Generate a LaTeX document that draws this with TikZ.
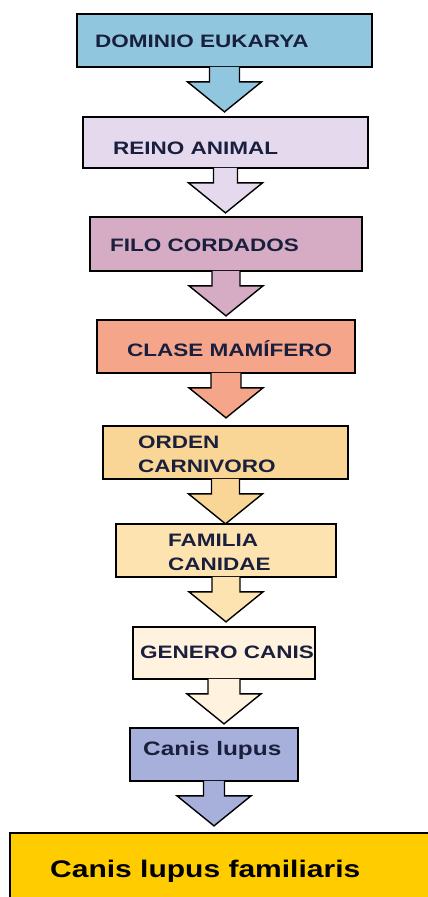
\documentclass[tikz,border=0pt]{standalone}
\usepackage{fontspec}
\setmainfont{Liberation Sans}[FakeStretch=1.25]
\usepackage{tikz}
\definecolor{azul1}{rgb}{0.57,0.78,0.87}
\definecolor{lila1}{rgb}{0.9,0.85,0.93}
\definecolor{malva1}{rgb}{0.84,0.67,0.77}
\definecolor{salmon1}{rgb}{0.96,0.65,0.54}
\definecolor{naranja1}{rgb}{0.98,0.84,0.59}
\definecolor{naranja2}{rgb}{0.99,0.89,0.69}
\definecolor{crema1}{rgb}{1,0.95,0.87}
\definecolor{azul2}{rgb}{0.65,0.69,0.86}
\definecolor{oro1}{rgb}{1,0.8,0}
\definecolor{tinta}{rgb}{0.1,0.12,0.24}
% flecha gruesa bajo una caja: caja, color, medio ancho del cuerpo
\newcommand{\flecha}[3]{%
\filldraw[fill=#2, draw=black, line width=1.4pt, line join=miter]
  ([xshift=-#3pt,yshift=1pt]#1.south) -- ++(0,15) -- ++({#3-37},0) -- ++(37,30)
  -- ++(37,-30) -- ++({#3-37},0) -- ++(0,-15);
}

\begin{document}
\begin{tikzpicture}[x=1pt,y=-1pt,
  caja/.style={draw=black, line width=1.7pt, inner sep=0pt},
  rotulo/.style={anchor=base west, inner sep=0pt, text=tinta, align=left,
    font=\bfseries\fontsize{18}{24}\selectfont}]
\clip (0,0) rectangle (428,897);

\node[caja, fill=azul1, minimum width=295pt, minimum height=53pt] (b1) at (224.5,40.5) {};
\node[caja, fill=lila1, minimum width=285pt, minimum height=51pt] (b2) at (225.5,142.5) {};
\node[caja, fill=malva1, minimum width=272pt, minimum height=54pt] (b3) at (226,244) {};
\node[caja, fill=salmon1, minimum width=258pt, minimum height=53pt] (b4) at (226,346.5) {};
\node[caja, fill=naranja1, minimum width=245pt, minimum height=53pt] (b5) at (225.5,452.5) {};
\node[caja, fill=naranja2, minimum width=220pt, minimum height=53pt] (b6) at (226,550.5) {};
\node[caja, fill=crema1, minimum width=182pt, minimum height=52pt] (b7) at (224,653) {};
\node[caja, fill=azul2, minimum width=168pt, minimum height=53pt] (b8) at (214,754.5) {};
\node[caja, fill=oro1, minimum width=440pt, minimum height=82pt] (b9) at (230,874) {};

\flecha{b1}{azul1}{15}
\flecha{b2}{lila1}{12}
\flecha{b3}{malva1}{14}
\flecha{b4}{salmon1}{15}
\flecha{b5}{naranja1}{14}
\flecha{b6}{naranja2}{14}
\flecha{b7}{crema1}{16}
\flecha{b8}{azul2}{10.5}

\node[rotulo] (t1) at (95,47) {DOMINIO EUKARYA};
\node[rotulo] (t2) at (113,154) {REINO ANIMAL};
\node[rotulo] (t3) at (110,251) {FILO CORDADOS};
\node[rotulo] (t4) at (127,356) {CLASE MAMÍFERO};
% el ancla base cae en la ultima linea
\node[rotulo] (t5) at (138,472) {ORDEN\\CARNIVORO};
\node[rotulo] (t6) at (168,570) {FAMILIA\\CANIDAE};
\node[rotulo] (t7) at (140,658) {GENERO CANIS};
\node[rotulo, font=\bfseries\fontsize{19.5}{23}\selectfont] (t8) at (143,755) {Canis lupus};
\node[rotulo, text=black, font=\bfseries\fontsize{24}{28}\selectfont] (t9) at (50,877) {Canis lupus familiaris};
\end{tikzpicture}
\end{document}
